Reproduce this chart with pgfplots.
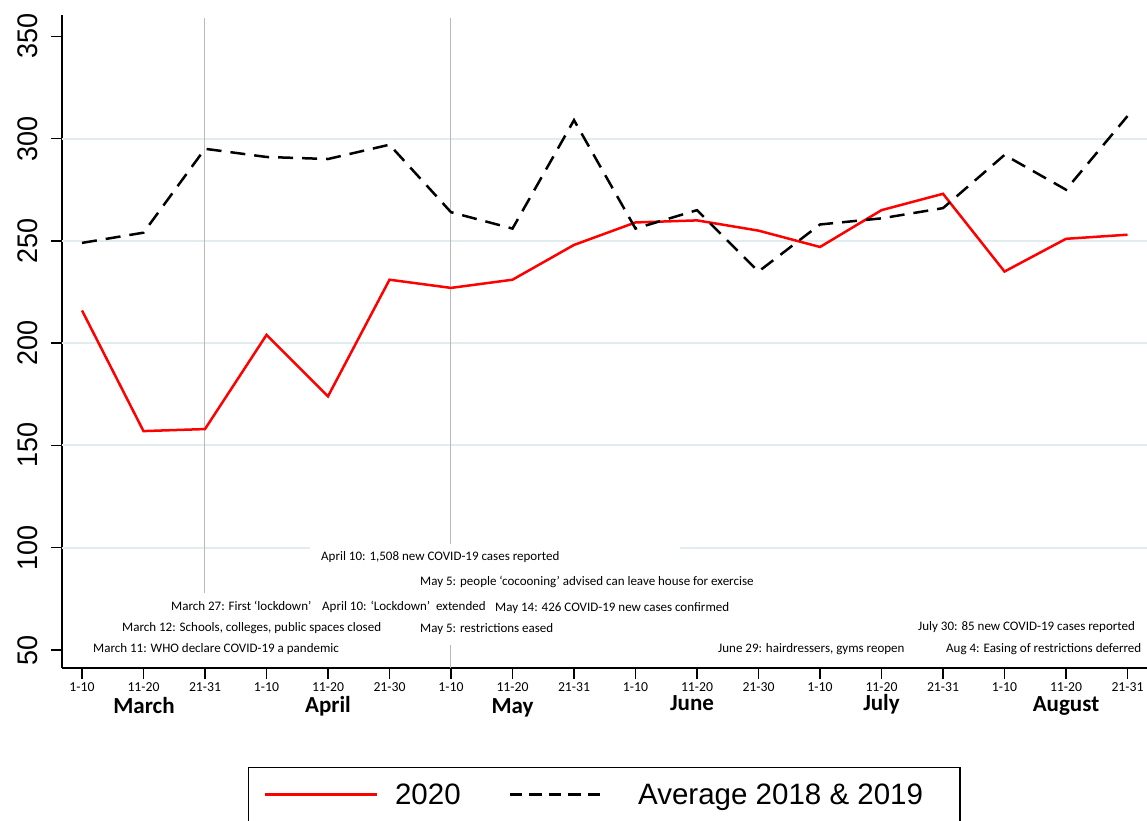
\documentclass[border=0pt]{standalone}
\usepackage{fontspec}
\setmainfont{Carlito}
\newfontfamily\arialf{Liberation Sans}
\usepackage{graphicx}
\usepackage{pgfplots}
\pgfplotsset{compat=1.18}
\definecolor{gridc}{RGB}{226,235,237}
\definecolor{vline}{RGB}{185,185,185}
\pgfplotsset{
  leg red/.style={legend image code/.code={\draw[##1] (0pt,0pt) -- (112pt,0pt);}},
  leg dash/.style={legend image code/.code={\draw[##1, dash pattern=on 12.5pt off 7pt] (0pt,0pt) -- (90pt,0pt); \path (110pt,0pt);}},
}

\begin{document}
\begin{tikzpicture}
\path[use as bounding box] (-62pt,-152pt) rectangle (1085pt,668pt);
\begin{axis}[
  scale only axis, width=1085pt, height=653pt,
  xmin=-0.325, xmax=17.317, ymin=41.2, ymax=360.4,
  axis x line*=bottom, axis y line*=left,
  axis line style={-, line width=1.6pt, black},
  tick align=outside, major tick length=11pt,
  tick style={line width=1.5pt, black},
  xtick={0,...,17},
  xticklabels={1-10,11-20,21-31,1-10,11-20,21-30,1-10,11-20,21-31,1-10,11-20,21-30,1-10,11-20,21-31,1-10,11-20,21-31},
  x tick label style={font=\fontsize{13.7}{14}\selectfont},
  ytick={50,100,...,350},
  yticklabel={\scalebox{1}[1.05]{\pgfmathprintnumber{\tick}}},
  y tick label style={font=\arialf\fontsize{27}{27}\selectfont, rotate=90, anchor=south},
  yticklabel shift=10pt,
  /pgf/number format/assume math mode=true,
  clip=false,
  legend columns=2,
  legend cell align=left,
  legend style={at={(0.1714,-0.1516)}, anchor=north west, draw=black, line width=1.2pt,
    inner xsep=15pt, inner ysep=16pt, font=\arialf\fontsize{29.5}{30}\selectfont,
    nodes={inner sep=0pt},
    /tikz/every odd column/.append style={column sep=17pt},
    /tikz/every even column/.append style={column sep=48pt}},
]
% grid lines
\draw[gridc, line width=2pt] (axis cs:-0.325,300) -- (axis cs:17.317,300);
\draw[gridc, line width=2pt] (axis cs:-0.325,250) -- (axis cs:17.317,250);
\draw[gridc, line width=2pt] (axis cs:-0.325,200) -- (axis cs:17.317,200);
\draw[gridc, line width=2pt] (axis cs:-0.325,150) -- (axis cs:17.317,150);
\draw[gridc, line width=2pt] (axis cs:-0.325,100) -- (axis cs:3.71,100);
\draw[gridc, line width=2pt] (axis cs:9.72,100) -- (axis cs:17.317,100);
% event lines
\draw[vline, line width=1pt] (axis cs:2,77.9) -- (axis cs:2,359);
\draw[vline, line width=1pt] (axis cs:6,41.2) -- (axis cs:6,52.4);
\draw[vline, line width=1pt] (axis cs:6,101.8) -- (axis cs:6,359);

\addplot[red, line width=2.5pt, leg red]
  coordinates {
  (0,216)(1,157)(2,158)(3,204)(4,174)(5,231)(6,227)(7,231)(8,248)
  (9,259)(10,260)(11,255)(12,247)(13,265)(14,273)(15,235)(16,251)(17,253)
  };
\addplot[black, line width=2.5pt, dash pattern=on 15pt off 9pt, leg dash]
  coordinates {
  (0,249)(1,254)(2,295)(3,291)(4,290)(5,297)(6,264)(7,256)(8,309)
  (9,256)(10,265)(11,235)(12,258)(13,261)(14,266)(15,292)(16,275)(17,311)
  };
\legend{2020, Average 2018 \& 2019\rule{22pt}{0pt}}
\end{axis}

% month names
\begin{scope}[font=\bfseries\fontsize{23}{23}\selectfont]
\node at (82pt,-38pt) {March};
\node at (266pt,-38pt) {April};
\node at (450.5pt,-40pt) {May};
\node at (630pt,-35pt) {June};
\node at (819.5pt,-36pt) {July};
\node at (1004pt,-38pt) {August};
\end{scope}

% events
\begin{scope}[font=\fontsize{13}{13}\selectfont, every node/.style={anchor=west, inner sep=0pt}]
\node at (259pt,111pt) {April 10: 1,508 new COVID-19 cases reported};
\node at (358pt,86pt) {May 5: people ‘cocooning’ advised can leave house for exercise};
\node at (109pt,62pt) {March 27: First ‘lockdown’};
\node at (260pt,61pt) {April 10: ‘Lockdown’ \ extended};
\node at (433pt,60pt) {May 14: 426 COVID-19 new cases confirmed};
\node at (60pt,40pt) {March 12: Schools, colleges, public spaces closed};
\node at (358pt,39pt) {May 5: restrictions eased};
\node at (31pt,19pt) {March 11: WHO declare COVID-19 a pandemic};
\node at (656pt,19pt) {June 29: hairdressers, gyms reopen};
\node at (856pt,41pt) {July 30: 85 new COVID-19 cases reported};
\node at (884pt,19pt) {Aug 4: Easing of restrictions deferred};
\end{scope}
\end{tikzpicture}
\end{document}
